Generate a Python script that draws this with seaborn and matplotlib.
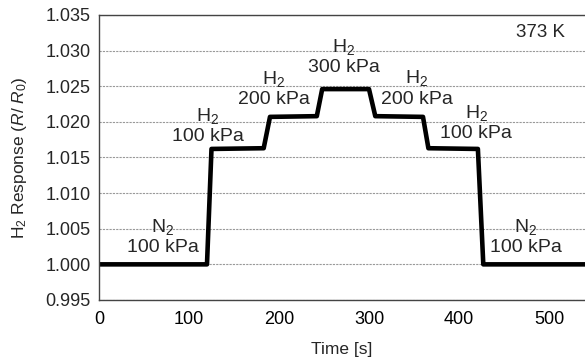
import pandas as pd
import matplotlib.pyplot as plt
import seaborn as sns

# breakpoints of the step response (time in s, R/R0)
time_s = [0, 120, 125, 183, 190, 242, 248, 300, 307, 360, 366, 421, 427, 540]
response = [1.0000, 1.0000, 1.0162, 1.0163, 1.0207, 1.0208, 1.0246, 1.0246,
            1.0208, 1.0207, 1.0163, 1.0162, 1.0000, 1.0000]

# gas labels: gas, pressure, position
labels_gas = ["N$_2$", "H$_2$", "H$_2$", "H$_2$", "H$_2$", "H$_2$", "N$_2$"]
labels_kpa = ["100 kPa", "100 kPa", "200 kPa", "300 kPa", "200 kPa", "100 kPa", "100 kPa"]
labels_x = [71, 121, 194, 272, 353, 419, 474]
labels_y = [1.0023, 1.0179, 1.0231, 1.0276, 1.0232, 1.0184, 1.0023]

df = pd.DataFrame({"Time": time_s, "Response": response})

sns.set_style("white")
plt.rcParams["font.family"] = ["Liberation Sans", "DejaVu Sans"]
plt.rcParams["mathtext.fontset"] = "custom"
plt.rcParams["mathtext.rm"] = "Liberation Sans"
plt.rcParams["mathtext.it"] = "Liberation Sans:italic"

fig = plt.figure(figsize=(5.85, 3.63), dpi=100)
ax = fig.add_axes([0.1692, 0.1736, 0.8308, 0.7851])

sns.lineplot(data=df, x="Time", y="Response", color="black", linewidth=3.3, ax=ax)

ax.set_xlim(0, 540)
ax.set_ylim(0.995, 1.035)
ax.set_yticks([0.995 + 0.005 * i for i in range(9)])
ax.set_yticklabels([f"{0.995 + 0.005 * i:.3f}" for i in range(9)], fontsize=13)
ax.set_xticks([0, 100, 200, 300, 400, 500])
ax.set_xticks(range(0, 541, 20), minor=True)
ax.tick_params(axis="x", which="both", direction="in", length=4, width=0.8,
               labelsize=13, pad=8, colors="#333333", labelcolor="black")
ax.tick_params(axis="y", length=0, pad=6)

ax.yaxis.grid(True, linestyle=(0, (2, 1)), color="#999999", linewidth=0.8)
ax.set_axisbelow(True)

for side in ["left", "bottom", "top"]:
    ax.spines[side].set_color("#444444")
    ax.spines[side].set_linewidth(1.0)
ax.spines["right"].set_visible(False)

ax.set_xlabel("Time [s]", fontsize=12.5, labelpad=10)
ax.set_ylabel("H$_2$ Response ($R$/ $R_0$)", fontsize=12.5, labelpad=12)

for g, p, x, y in zip(labels_gas, labels_kpa, labels_x, labels_y):
    ax.text(x, y, p, ha="center", va="center", fontsize=14)
    ax.text(x, y + 0.0029, g, ha="center", va="center", fontsize=14)

ax.text(491, 1.0326, "373 K", ha="center", va="center", fontsize=13.5)

fig.savefig("out.png", dpi=100)
